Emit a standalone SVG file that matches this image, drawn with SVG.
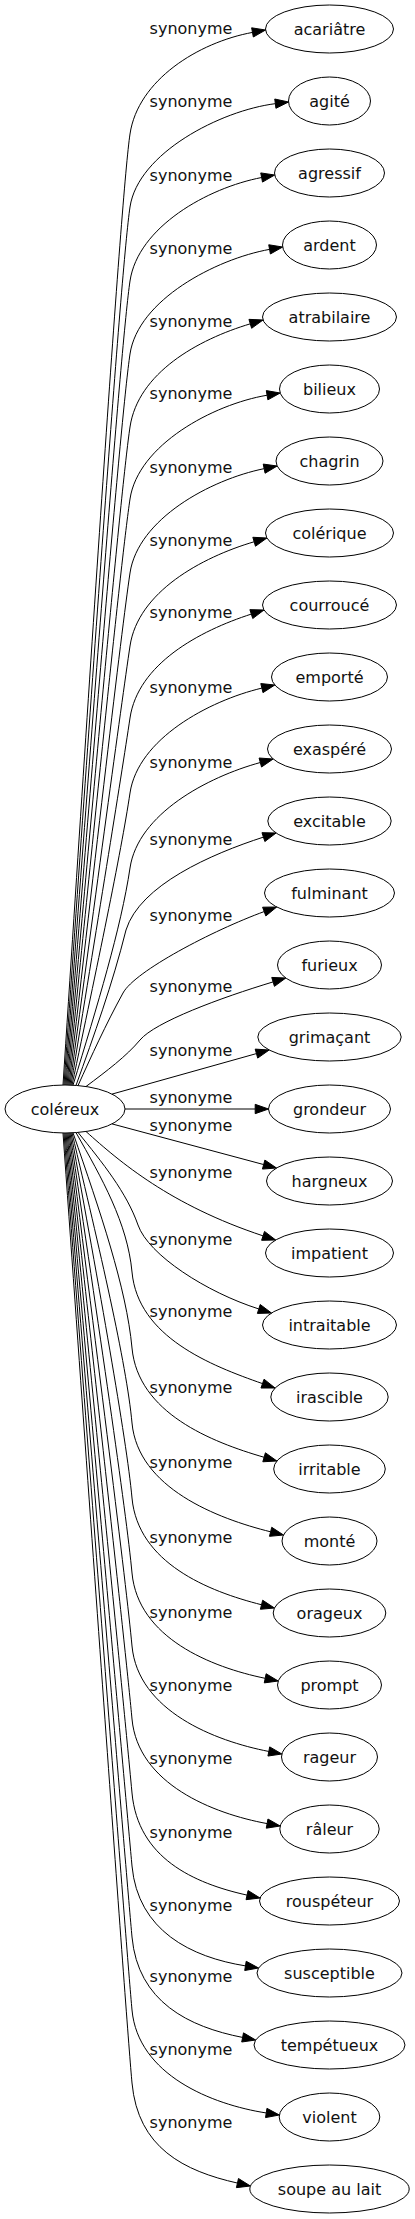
<svg xmlns="http://www.w3.org/2000/svg" width="415" height="2219" viewBox="0 0 415 2219">
<style>
text{font-family:"DejaVu Sans","Liberation Sans",sans-serif;font-size:16px;fill:#111;text-anchor:middle}
.node ellipse{fill:none;stroke:#000;stroke-width:1}
.edge path{fill:none;stroke:#000;stroke-width:1}
.edge polygon{fill:#000;stroke:#000;stroke-width:1}
</style>
<rect width="415" height="2219" fill="#fff"/>
<g id="edges">
<g class="edge" id="e_acariatre"><path d="M63,1085C92.05,639.5 121.1,194 130,134C138,80 198.39,42.38 252.48,32.41"/><polygon points="265.56,30 253.33,37 251.63,27.82"/><text x="191" y="34">synonyme</text></g>
<g class="edge" id="e_agite"><path d="M64,1085C92.55,676 121.1,267 130,207C138,153 220.78,110.54 275.35,103.66"/><polygon points="288.54,102 275.93,108.29 274.77,99.03"/><text x="191" y="107">synonyme</text></g>
<g class="edge" id="e_agressif"><path d="M65,1085C93.05,713 121.1,341 130,281C138,227 207.61,187.88 261.63,177.51"/><polygon points="274.69,175 262.51,182.1 260.75,172.92"/><text x="191" y="181">synonyme</text></g>
<g class="edge" id="e_ardent"><path d="M66,1085C93.55,749.5 121.1,414 130,354C138,300 215.45,259.18 269.57,249.37"/><polygon points="282.66,247 270.4,253.97 268.74,244.78"/><text x="191" y="254">synonyme</text></g>
<g class="edge" id="e_atrabilaire"><path d="M67,1085C94.05,786 121.1,487 130,427C138,373 197.61,339.61 250.29,323.82"/><polygon points="263.03,320 251.63,328.29 248.95,319.35"/><text x="191" y="327">synonyme</text></g>
<g class="edge" id="e_bilieux"><path d="M68,1085C94.55,822 121.1,559 130,499C138,445 212.86,404.41 267.09,395.22"/><polygon points="280.2,393 267.87,399.83 266.31,390.62"/><text x="191" y="399">synonyme</text></g>
<g class="edge" id="e_chagrin"><path d="M69,1085.1C95.05,859 121.1,633 130,573C138,519 210.26,479.63 264.15,468.65"/><polygon points="277.18,466 265.08,473.23 263.22,464.07"/><text x="191" y="473">synonyme</text></g>
<g class="edge" id="e_colerique"><path d="M70,1085.1C95.55,895.55 121.1,706 130,646C138,592 201.39,557.32 254.15,541.76"/><polygon points="266.91,538 255.47,546.24 252.83,537.28"/><text x="191" y="546">synonyme</text></g>
<g class="edge" id="e_courrouce"><path d="M71,1085.1C96.05,931.55 121.1,778 130,718C138,664 198.97,630.99 251.31,614.09"/><polygon points="263.97,610 252.75,618.53 249.88,609.65"/><text x="191" y="618">synonyme</text></g>
<g class="edge" id="e_emporte"><path d="M72,1085.2C96.55,969.1 121.1,853 130,793C138,739 208.39,700.88 261.88,688.09"/><polygon points="274.82,685 262.97,692.63 260.79,683.55"/><text x="191" y="693">synonyme</text></g>
<g class="edge" id="e_exaspere"><path d="M73,1085.2C97.05,1006.6 121.1,928 130,868C138,814 207.27,777.06 260.31,762.52"/><polygon points="273.14,759 261.54,767.02 259.08,758.02"/><text x="191" y="768">synonyme</text></g>
<g class="edge" id="e_excitable"><path d="M76,1085.4C94.2,1034.9 112.4,984.4 126,930C140,885 211.11,854.11 263.42,837.11"/><polygon points="276.07,833 264.86,841.55 261.98,832.67"/><text x="191" y="845">synonyme</text></g>
<g class="edge" id="e_fulminant"><path d="M78,1085.6C91.65,1055.5 105.3,1025.4 123,993C135,971 212.56,930.48 264.21,911.57"/><polygon points="276.7,907 265.82,915.96 262.6,907.19"/><text x="191" y="921">synonyme</text></g>
<g class="edge" id="e_furieux"><path d="M86,1086.5C106.25,1071.35 126.5,1056.2 140,1040C155,1022 220.5,997.8 273.1,981.9"/><polygon points="285.8,978 274.45,986.37 271.75,977.43"/><text x="191" y="992">synonyme</text></g>
<g class="edge" id="e_grimacant"><path d="M112,1094.1L256.4,1053.6"/><polygon points="269.2,1050 257.7,1058.1 255.2,1049.1"/><text x="191" y="1056">synonyme</text></g>
<g class="edge" id="e_grondeur"><path d="M125,1109L255.2,1109"/><polygon points="268.5,1109 255.2,1113.67 255.2,1104.33"/><text x="191" y="1103">synonyme</text></g>
<g class="edge" id="e_hargneux"><path d="M112,1123.9L263.65,1164.56"/><polygon points="276.5,1168 262.44,1169.07 264.86,1160.05"/><text x="191" y="1131">synonyme</text></g>
<g class="edge" id="e_impatient"><path d="M86,1131.5C120,1162 170,1205 263.06,1235.86"/><polygon points="275.7,1240 261.61,1240.3 264.51,1231.42"/><text x="191" y="1178">synonyme</text></g>
<g class="edge" id="e_intraitable"><path d="M78,1132.4C102.35,1162.5 126.7,1192.6 138,1225C148.5,1255 206.4,1292.3 258.81,1308.96"/><polygon points="271.48,1313 257.39,1313.41 260.23,1304.51"/><text x="191" y="1245">synonyme</text></g>
<g class="edge" id="e_irascible"><path d="M76,1132.6C101.75,1177.9 127.5,1223.2 132,1272C138,1337 210.6,1365.46 262.52,1383.61"/><polygon points="275.08,1388 260.98,1388.02 264.06,1379.2"/><text x="191" y="1317">synonyme</text></g>
<g class="edge" id="e_irritable"><path d="M73,1132.8C99.75,1210.4 126.5,1288 132,1348C138,1413 211.3,1441.93 264.12,1457.29"/><polygon points="276.89,1461 262.82,1461.77 265.42,1452.81"/><text x="191" y="1393">synonyme</text></g>
<g class="edge" id="e_monte"><path d="M72,1132.8C99.25,1247.9 126.5,1363 132,1423C138,1488 217.22,1518.56 270.6,1531.8"/><polygon points="283.51,1535 269.48,1536.33 271.73,1527.27"/><text x="191" y="1468">synonyme</text></g>
<g class="edge" id="e_orageux"><path d="M71,1132.9C98.75,1285.45 126.5,1438 132,1498C138,1563 208.21,1591.29 261.54,1604.75"/><polygon points="274.44,1608 260.4,1609.28 262.68,1600.22"/><text x="191" y="1543">synonyme</text></g>
<g class="edge" id="e_prompt"><path d="M70,1132.9C98.25,1322.95 126.5,1513 132,1573C138,1638 211.33,1667.24 265.2,1678.32"/><polygon points="278.23,1681 264.26,1682.89 266.14,1673.75"/><text x="191" y="1618">synonyme</text></g>
<g class="edge" id="e_rageur"><path d="M69,1132.9C97.75,1359.45 126.5,1586 132,1646C138,1711 214.83,1740.97 268.82,1751.46"/><polygon points="281.88,1754 267.93,1756.04 269.71,1746.88"/><text x="191" y="1691">synonyme</text></g>
<g class="edge" id="e_raleur"><path d="M68,1133C97.25,1396 126.5,1659 132,1719C138,1784 213.02,1813.63 267.11,1823.59"/><polygon points="280.19,1826 266.27,1828.18 267.96,1819"/><text x="191" y="1764">synonyme</text></g>
<g class="edge" id="e_rouspeteur"><path d="M67,1133C96.75,1433 126.5,1733 132,1793C138,1858 193.38,1883.2 247.07,1895.12"/><polygon points="260.05,1898 246.06,1899.68 248.08,1890.56"/><text x="191" y="1838">synonyme</text></g>
<g class="edge" id="e_susceptible"><path d="M66,1133C96.25,1469.5 126.5,1806 132,1866C138,1931 191.16,1957.17 245.46,1965.89"/><polygon points="258.59,1968 244.72,1970.5 246.2,1961.28"/><text x="191" y="1911">synonyme</text></g>
<g class="edge" id="e_tempetueux"><path d="M65,1133C95.75,1505 126.5,1877 132,1937C138,2002 188.64,2026.81 242.61,2037.43"/><polygon points="255.66,2040 241.71,2042.01 243.51,2032.85"/><text x="191" y="1982">synonyme</text></g>
<g class="edge" id="e_violent"><path d="M64,1133C95.25,1541.5 126.5,1950 132,2010C138,2075 211.89,2104.52 266.24,2112.96"/><polygon points="279.38,2115 265.52,2117.58 266.96,2108.35"/><text x="191" y="2055">synonyme</text></g>
<g class="edge" id="e_soupe_au_lait"><path d="M63,1133C94.75,1578 126.5,2023 132,2083C138,2148 183.8,2170.95 237.45,2183.07"/><polygon points="250.42,2186 236.42,2187.63 238.48,2178.51"/><text x="191" y="2128">synonyme</text></g>
</g>
<g id="nodes">
<g class="node" id="n_colereux"><ellipse cx="65" cy="1109" rx="60" ry="24"/><text x="65" y="1114.5">coléreux</text></g>
<g class="node" id="n_acariatre"><ellipse cx="329.5" cy="29" rx="64" ry="24"/><text x="329.5" y="34.5">acariâtre</text></g>
<g class="node" id="n_agite"><ellipse cx="329.5" cy="101" rx="41" ry="24"/><text x="329.5" y="106.5">agité</text></g>
<g class="node" id="n_agressif"><ellipse cx="329.5" cy="173" rx="55" ry="24"/><text x="329.5" y="178.5">agressif</text></g>
<g class="node" id="n_ardent"><ellipse cx="329.5" cy="245" rx="47" ry="24"/><text x="329.5" y="250.5">ardent</text></g>
<g class="node" id="n_atrabilaire"><ellipse cx="329.5" cy="317" rx="67" ry="24"/><text x="329.5" y="322.5">atrabilaire</text></g>
<g class="node" id="n_bilieux"><ellipse cx="329.5" cy="389" rx="50" ry="24"/><text x="329.5" y="394.5">bilieux</text></g>
<g class="node" id="n_chagrin"><ellipse cx="329.5" cy="461" rx="53.5" ry="24"/><text x="329.5" y="466.5">chagrin</text></g>
<g class="node" id="n_colerique"><ellipse cx="329.5" cy="533" rx="64" ry="24"/><text x="329.5" y="538.5">colérique</text></g>
<g class="node" id="n_courrouce"><ellipse cx="329.5" cy="605" rx="67" ry="24"/><text x="329.5" y="610.5">courroucé</text></g>
<g class="node" id="n_emporte"><ellipse cx="329.5" cy="677" rx="58" ry="24"/><text x="329.5" y="682.5">emporté</text></g>
<g class="node" id="n_exaspere"><ellipse cx="329.5" cy="749" rx="62" ry="24"/><text x="329.5" y="754.5">exaspéré</text></g>
<g class="node" id="n_excitable"><ellipse cx="329.5" cy="821" rx="61.7" ry="24"/><text x="329.5" y="826.5">excitable</text></g>
<g class="node" id="n_fulminant"><ellipse cx="329.5" cy="893" rx="65" ry="24"/><text x="329.5" y="898.5">fulminant</text></g>
<g class="node" id="n_furieux"><ellipse cx="329.5" cy="965" rx="52" ry="24"/><text x="329.5" y="970.5">furieux</text></g>
<g class="node" id="n_grimacant"><ellipse cx="329.5" cy="1037" rx="71.7" ry="24"/><text x="329.5" y="1042.5">grimaçant</text></g>
<g class="node" id="n_grondeur"><ellipse cx="329.5" cy="1109" rx="61" ry="24"/><text x="329.5" y="1114.5">grondeur</text></g>
<g class="node" id="n_hargneux"><ellipse cx="329.5" cy="1181" rx="63" ry="24"/><text x="329.5" y="1186.5">hargneux</text></g>
<g class="node" id="n_impatient"><ellipse cx="329.5" cy="1253" rx="64" ry="24"/><text x="329.5" y="1258.5">impatient</text></g>
<g class="node" id="n_intraitable"><ellipse cx="329.5" cy="1325" rx="67" ry="24"/><text x="329.5" y="1330.5">intraitable</text></g>
<g class="node" id="n_irascible"><ellipse cx="329.5" cy="1397" rx="58.7" ry="24"/><text x="329.5" y="1402.5">irascible</text></g>
<g class="node" id="n_irritable"><ellipse cx="329.5" cy="1469" rx="55.8" ry="24"/><text x="329.5" y="1474.5">irritable</text></g>
<g class="node" id="n_monte"><ellipse cx="329.5" cy="1541" rx="47.5" ry="24"/><text x="329.5" y="1546.5">monté</text></g>
<g class="node" id="n_orageux"><ellipse cx="329.5" cy="1613" rx="56.3" ry="24"/><text x="329.5" y="1618.5">orageux</text></g>
<g class="node" id="n_prompt"><ellipse cx="329.5" cy="1685" rx="52" ry="24"/><text x="329.5" y="1690.5">prompt</text></g>
<g class="node" id="n_rageur"><ellipse cx="329.5" cy="1757" rx="48" ry="24"/><text x="329.5" y="1762.5">rageur</text></g>
<g class="node" id="n_raleur"><ellipse cx="329.5" cy="1829" rx="49.7" ry="24"/><text x="329.5" y="1834.5">râleur</text></g>
<g class="node" id="n_rouspeteur"><ellipse cx="329.5" cy="1901" rx="70" ry="24"/><text x="329.5" y="1906.5">rouspéteur</text></g>
<g class="node" id="n_susceptible"><ellipse cx="329.5" cy="1973" rx="72.5" ry="24"/><text x="329.5" y="1978.5">susceptible</text></g>
<g class="node" id="n_tempetueux"><ellipse cx="329.5" cy="2045" rx="75.5" ry="24"/><text x="329.5" y="2050.5">tempétueux</text></g>
<g class="node" id="n_violent"><ellipse cx="329.5" cy="2117" rx="50.3" ry="24"/><text x="329.5" y="2122.5">violent</text></g>
<g class="node" id="n_soupe_au_lait"><ellipse cx="329.5" cy="2189" rx="79.7" ry="24"/><text x="329.5" y="2194.5">soupe au lait</text></g>
</g>
</svg>
